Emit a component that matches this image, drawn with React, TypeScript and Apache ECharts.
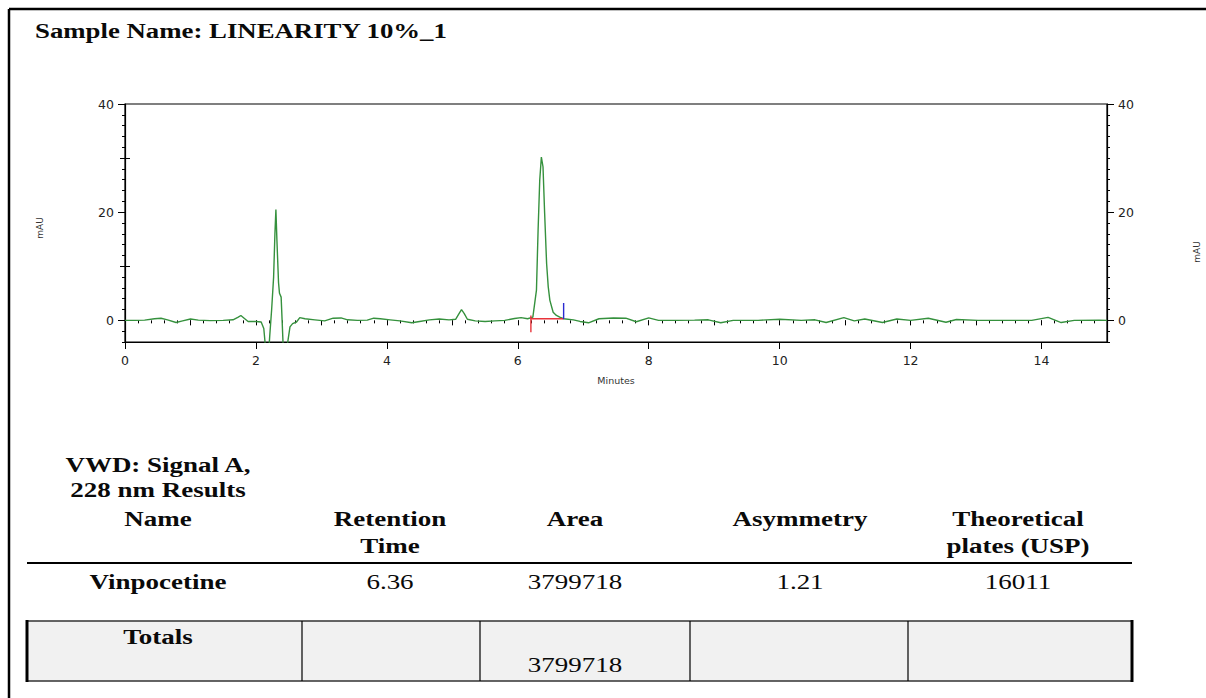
import React, { useEffect, useRef } from "react";
import * as echarts from "echarts";

// Chromatogram header
const sampleTitle = "Sample Name: LINEARITY 10%_1";

// Axis extents and labelled ticks
const timeRange = [0, 15];
const timeLabels = [0, 2, 4, 6, 8, 10, 12, 14];
const absorbanceRange = [-4, 40];
const absorbanceLabels = [0, 20, 40];
const absorbanceMidTicks = [10, 30];

// VWD signal A (228 nm), [minutes, mAU]
const signalTrace: [number, number][] = [
  [0.0, 0.0], [0.15, 0.0], [0.3, 0.05], [0.45, 0.3], [0.55, 0.4], [0.65, 0.1],
  [0.78, -0.4], [0.88, -0.1], [1.0, 0.25], [1.12, 0.05], [1.3, -0.05], [1.5, 0.0],
  [1.65, 0.1], [1.73, 0.6], [1.77, 0.9], [1.82, 0.4], [1.88, -0.2], [2.0, -0.2],
  [2.08, -0.3], [2.12, -1.5], [2.15, -5.5], [2.19, -7.0], [2.21, -3.0], [2.24, 2.0],
  [2.27, 8.0], [2.29, 16.0], [2.305, 20.5], [2.32, 15.0], [2.345, 7.0], [2.36, 5.0],
  [2.385, 4.3], [2.4, 0.0], [2.42, -6.0], [2.46, -7.0], [2.48, -4.5], [2.52, -1.2],
  [2.56, -0.6], [2.62, -0.3], [2.67, 0.5], [2.75, 0.3], [2.9, 0.1], [3.05, -0.1],
  [3.18, 0.4], [3.3, 0.45], [3.4, 0.1], [3.55, 0.0], [3.7, 0.05], [3.8, 0.4],
  [3.9, 0.3], [4.05, 0.1], [4.2, -0.1], [4.38, -0.45], [4.5, -0.2], [4.65, 0.1],
  [4.8, 0.25], [4.95, 0.1], [5.05, 0.2], [5.1, 1.2], [5.14, 2.0], [5.18, 1.3],
  [5.23, 0.2], [5.35, -0.1], [5.5, -0.2], [5.65, -0.1], [5.8, 0.0], [5.95, 0.35],
  [6.05, 0.5], [6.15, 0.3], [6.23, 0.6], [6.285, 5.6], [6.31, 16.7], [6.335, 25.9],
  [6.36, 30.2], [6.385, 28.4], [6.41, 19.8], [6.44, 10.5], [6.465, 6.2], [6.49, 3.7],
  [6.54, 1.5], [6.59, 0.9], [6.64, 0.6], [6.7, 0.3], [6.85, 0.1], [6.95, -0.2],
  [7.08, -0.45], [7.24, 0.3], [7.46, 0.45], [7.65, 0.4], [7.81, -0.25], [8.0, 0.45],
  [8.15, 0.0], [8.42, 0.0], [8.7, 0.05], [8.91, 0.1], [9.1, -0.45], [9.29, 0.0],
  [9.67, 0.0], [10.0, 0.2], [10.33, 0.0], [10.54, 0.1], [10.71, -0.4], [10.98, 0.5],
  [11.14, -0.1], [11.3, 0.25], [11.57, -0.4], [11.79, 0.25], [12.0, 0.0], [12.27, 0.4],
  [12.54, -0.35], [12.7, 0.15], [13.03, 0.0], [13.41, 0.0], [13.85, 0.0], [14.1, 0.55],
  [14.3, -0.4], [14.5, 0.0], [14.88, 0.05], [15.0, 0.0],
];

// Integration of the Vinpocetine peak: baseline plus start / end markers
const peakBaseline: [number, number][] = [[6.2, 0.3], [6.7, 0.3]];
const peakStartMark: [number, number][] = [[6.2, 0.9], [6.2, -2.2]];
const peakEndMark: [number, number][] = [[6.7, 3.2], [6.7, 0.25]];

// Results table
const resultsCaption = ["VWD: Signal A,", "228 nm Results"];
const columnHeaders = [["Name"], ["Retention", "Time"], ["Area"], ["Asymmetry"], ["Theoretical", "plates (USP)"]];
const peakRow = ["Vinpocetine", "6.36", "3799718", "1.21", "16011"];
const totalsRow = ["Totals", "", "3799718", "", ""];

const GREEN = "#35913d";
const SANS = "DejaVu Sans";
const SERIF = "Liberation Serif";

function serifText(text: string, x: number, y: number, bold: boolean) {
  return {
    type: "text",
    x,
    y,
    scaleX: 1.35,
    silent: true,
    style: {
      text,
      fill: "#0a0a0a",
      fontFamily: SERIF,
      fontSize: 20,
      fontWeight: bold ? "bold" : "normal",
      align: "center",
      textAlign: "center",
      verticalAlign: "middle",
      textVerticalAlign: "middle",
    },
  };
}

function hLine(x1: number, x2: number, y: number, w: number, c = "#000") {
  return { type: "line", silent: true, shape: { x1, y1: y, x2, y2: y }, style: { stroke: c, lineWidth: w } };
}
function vLine(x: number, y1: number, y2: number, w: number, c = "#000") {
  return { type: "line", silent: true, shape: { x1: x, y1, x2: x, y2 }, style: { stroke: c, lineWidth: w } };
}

export default function App() {
  const ref = useRef<HTMLDivElement>(null);

  useEffect(() => {
    if (!ref.current) return;
    const chart = echarts.init(ref.current, undefined, { renderer: "svg" });

    const tickStyle = { color: "#000", width: 1 };
    const yBase = { type: "value", min: absorbanceRange[0], max: absorbanceRange[1], splitLine: { show: false } };
    const xBase = { type: "value", min: timeRange[0], max: timeRange[1], splitLine: { show: false } };
    const labelStyle = { color: "#222", fontFamily: SANS, fontSize: 12.5 };

    const yAxes: any[] = [];
    (["left", "right"] as const).forEach((pos) => {
      yAxes.push({
        ...yBase,
        position: pos,
        axisLine: { show: true, onZero: false, lineStyle: { color: "#000", width: 1.2 } },
        axisTick: { show: true, customValues: absorbanceLabels, length: 7, lineStyle: tickStyle },
        axisLabel: { show: true, customValues: absorbanceLabels, margin: 11, ...labelStyle },
      });
      yAxes.push({
        ...yBase,
        position: pos,
        axisLine: { show: false },
        axisTick: { show: true, customValues: absorbanceMidTicks, length: 5, lineStyle: tickStyle },
        axisLabel: { show: false },
      });
      yAxes.push({
        ...yBase,
        position: pos,
        interval: 2,
        axisLine: { show: false },
        axisTick: { show: true, length: 3, lineStyle: tickStyle },
        axisLabel: { show: false },
      });
    });

    const xAxes: any[] = [
      {
        ...xBase,
        position: "bottom",
        name: "Minutes",
        nameLocation: "middle",
        nameGap: 33,
        nameTextStyle: { color: "#333", fontFamily: SANS, fontSize: 9.5 },
        axisLine: { show: true, onZero: false, lineStyle: { color: "#000", width: 1.2 } },
        axisTick: { show: true, customValues: timeLabels, length: 7, lineStyle: tickStyle },
        axisLabel: { show: true, customValues: timeLabels, margin: 12, ...labelStyle },
      },
      {
        ...xBase,
        position: "bottom",
        interval: 1,
        axisLine: { show: false },
        axisTick: { show: true, length: 5, lineStyle: tickStyle },
        axisLabel: { show: false },
      },
      {
        ...xBase,
        position: "bottom",
        interval: 0.2,
        axisLine: { show: false },
        axisTick: { show: true, length: 3, lineStyle: tickStyle },
        axisLabel: { show: false },
      },
    ];

    const colCenters = [158, 390, 575, 800, 1018];
    const tableLeft = 27;
    const tableRight = 1132;

    const graphics: any[] = [
      hLine(9, 1206, 9, 2.5),
      vLine(9, 9, 698, 2.5),
      {
        type: "text",
        x: 35,
        y: 31,
        scaleX: 1.34,
        silent: true,
        style: {
          text: sampleTitle,
          fill: "#0a0a0a",
          fontFamily: SERIF,
          fontSize: 20,
          fontWeight: "bold",
          align: "left",
          textAlign: "left",
          verticalAlign: "middle",
          textVerticalAlign: "middle",
        },
      },
      {
        type: "text",
        x: 40,
        y: 228,
        rotation: Math.PI / 2,
        silent: true,
        style: { text: "mAU", fill: "#333", fontFamily: SANS, fontSize: 9, align: "center", textAlign: "center", verticalAlign: "middle", textVerticalAlign: "middle" },
      },
      {
        type: "text",
        x: 1197,
        y: 252,
        rotation: Math.PI / 2,
        silent: true,
        style: { text: "mAU", fill: "#333", fontFamily: SANS, fontSize: 9, align: "center", textAlign: "center", verticalAlign: "middle", textVerticalAlign: "middle" },
      },
      serifText(resultsCaption[0], colCenters[0], 465, true),
      serifText(resultsCaption[1], colCenters[0], 490, true),
    ];

    columnHeaders.forEach((lines, i) => {
      lines.forEach((t, j) => graphics.push(serifText(t, colCenters[i], 519 + j * 27, true)));
    });
    graphics.push(hLine(tableLeft, tableRight, 563, 2));
    peakRow.forEach((t, i) => graphics.push(serifText(t, colCenters[i], 582, i === 0)));

    // Totals box
    graphics.push({
      type: "rect",
      silent: true,
      shape: { x: tableLeft, y: 621, width: tableRight - tableLeft, height: 60 },
      style: { fill: "#f1f1f1", stroke: "#333", lineWidth: 1.5 },
    });
    graphics.push(vLine(tableLeft, 620, 682, 3));
    graphics.push(vLine(tableRight, 620, 682, 3));
    [302, 480, 690, 908].forEach((x) => graphics.push(vLine(x, 621, 681, 1.2)));
    totalsRow.forEach((t, i) => {
      if (!t) return;
      graphics.push(serifText(t, colCenters[i], i === 0 ? 637 : 665, i === 0));
    });

    chart.setOption({
      animation: false,
      backgroundColor: "#fff",
      grid: {
        left: 125,
        top: 104,
        width: 982,
        height: 238,
        show: true,
        borderColor: "#000",
        borderWidth: 1.2,
        backgroundColor: "transparent",
        containLabel: false,
      },
      xAxis: xAxes,
      yAxis: yAxes,
      series: [
        {
          type: "line",
          data: signalTrace,
          xAxisIndex: 0,
          yAxisIndex: 0,
          showSymbol: false,
          clip: true,
          lineStyle: { color: GREEN, width: 1.4 },
          silent: true,
        },
        {
          type: "line",
          data: peakBaseline,
          showSymbol: false,
          lineStyle: { color: "#e8333a", width: 1.4 },
          silent: true,
        },
        {
          type: "line",
          data: peakStartMark,
          showSymbol: false,
          lineStyle: { color: "#e8333a", width: 1.4 },
          silent: true,
        },
        {
          type: "line",
          data: peakEndMark,
          showSymbol: false,
          lineStyle: { color: "#2a2ad0", width: 1.4 },
          silent: true,
        },
      ],
      graphic: graphics,
    });

    return () => chart.dispose();
  }, []);

  return (
    <div
      ref={ref}
      style={{ position: "fixed", left: 0, top: 0, width: 1206, height: 698, background: "#fff" }}
    />
  );
}
